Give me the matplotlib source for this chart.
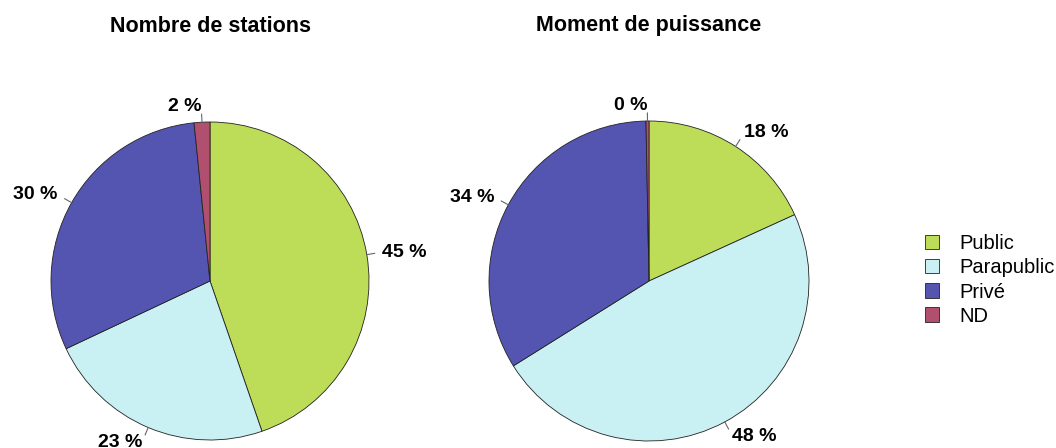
import numpy as np
import matplotlib.pyplot as plt

plt.rcParams['font.family'] = ['Liberation Sans', 'DejaVu Sans']

categories = ["Public", "Parapublic", "Privé", "ND"]
colors = ["#bddc58", "#c9f0f3", "#5455b0", "#b0506e"]

titles = ["Nombre de stations", "Moment de puissance"]
stations = [44.7, 23.3, 30.4, 1.6]
puissance = [18.2, 47.9, 33.6, 0.3]
labels_st = ["45 %", "23 %", "30 %", "2 %"]
labels_pu = ["18 %", "48 %", "34 %", "0 %"]

W, H = 1056, 448
fig = plt.figure(figsize=(W / 100, H / 100), dpi=100)


def draw_pie(cx, cy, r, values, labels, title):
    ax = fig.add_axes([(cx - r) / W, (H - cy - r) / H, 2 * r / W, 2 * r / H])
    wedges, texts = ax.pie(values, colors=colors, startangle=90, counterclock=False,
                           labels=labels, labeldistance=1.1,
                           wedgeprops=dict(edgecolor="#222222", linewidth=0.6),
                           textprops=dict(fontsize=14, fontweight="bold"))
    for w in wedges:
        a = np.deg2rad((w.theta1 + w.theta2) / 2)
        ax.plot([np.cos(a), 1.05 * np.cos(a)], [np.sin(a), 1.05 * np.sin(a)],
                color="#666666", lw=0.8, clip_on=False)
    ax.set_xlim(-1, 1)
    ax.set_ylim(-1, 1)
    ax.set_aspect("equal")
    ax.axis("off")
    fig.text(cx / W, 1 - 26 / H, title, ha="center", va="center",
             fontsize=15.5, fontweight="bold")
    return wedges


wedges = draw_pie(210, 281, 159, stations, labels_st, titles[0])
draw_pie(649, 281, 160, puissance, labels_pu, titles[1])

fig.legend(wedges, categories, loc="center left", bbox_to_anchor=(925 / W, 1 - 280 / H),
           frameon=False, fontsize=14.5, handlelength=0.7, handleheight=0.7,
           handletextpad=1.0, labelspacing=0.25, borderpad=0, borderaxespad=0)

fig.savefig("out.png", dpi=100)
